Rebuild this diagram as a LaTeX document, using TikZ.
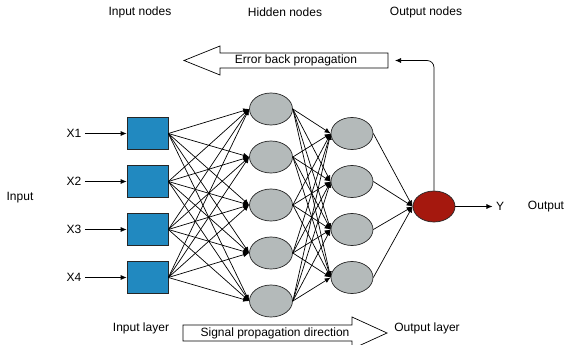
\documentclass[tikz,border=0pt]{standalone}
\usepackage{fontspec}
\setmainfont{Liberation Sans}
\usetikzlibrary{arrows.meta,shapes.geometric}
\definecolor{inblue}{HTML}{2189C0}
\definecolor{hidgray}{HTML}{B4BABA}
\definecolor{outred}{HTML}{A5180E}
\begin{document}
\begin{tikzpicture}[x=1pt,y=-1pt,every node/.style={font=\fontsize{12}{14}\selectfont},
  inbox/.style={draw=black!85,fill=inblue,line width=0.7pt,minimum width=41pt,minimum height=32pt,inner sep=0pt},
  neuron/.style={ellipse,draw=black!85,fill=hidgray,line width=0.7pt,minimum width=43pt,minimum height=32pt,inner sep=0pt},
  wire/.style={-{Latex[length=6pt,width=5pt]},line width=0.7pt}]
\useasboundingbox (0,0) rectangle (565,345);
% column headings
\node (hin) at (140,12) {Input nodes};
\node (hhid) at (285,12) {Hidden nodes};
\node (hout) at (426,12) {Output nodes};
% input layer
\node (input) at (20,198) {Input};
\foreach \i/\y in {1/133.5,2/181.5,3/229.5,4/277.5} {
  \node[inbox] (in\i) at (147.5,\y) {};
  \node (x\i) at (74,\y) {X\i};
  \draw[wire] (x\i) -- (in\i);
}
% hidden nodes
\foreach \j/\y in {1/109,2/157,3/205,4/253,5/301}
  \node[neuron] (h\j) at (271,\y) {};
\foreach \k/\y in {1/133.5,2/181.5,3/229.5,4/277.5}
  \node[neuron,minimum width=42pt] (o\k) at (352,\y) {};
% output node
\node[neuron,fill=outred,minimum width=42pt,minimum height=31pt] (out) at (434,206.5) {};
% weights
\foreach \i in {1,...,4}
  \foreach \j in {1,...,5}
    \draw[wire] (in\i.east) -- (h\j.west);
\foreach \j in {1,...,5}
  \foreach \k in {1,...,4}
    \draw[wire] (h\j.east) -- (o\k.west);
\foreach \k in {1,...,4}
  \draw[wire] (o\k.east) -- (out.west);
% result
\node (y) at (500,206.5) {Y};
\node (outtxt) at (546,206.5) {Output};
\draw[wire] (out) -- (y);
% error back propagation
\node (err) at (296,60.5) {Error back propagation};
\draw[line width=0.7pt] (388,53) -- (220,53) -- (220,46) -- (184,60.5) -- (220,75) -- (220,68) -- (388,68) -- cycle;
\coordinate (fb) at (395,60.5);
\draw[wire,rounded corners=7pt] (out.north) |- (fb);
% signal propagation
\node (sig) at (275,333) {Signal propagation direction};
\draw[line width=0.7pt] (183,325) -- (352,325) -- (352,317) -- (387,333) -- (352,349) -- (352,341) -- (183,341) -- cycle;
\node (inlayer) at (141,328) {Input layer};
\node (outlayer) at (427,328) {Output layer};
\end{tikzpicture}
\end{document}
